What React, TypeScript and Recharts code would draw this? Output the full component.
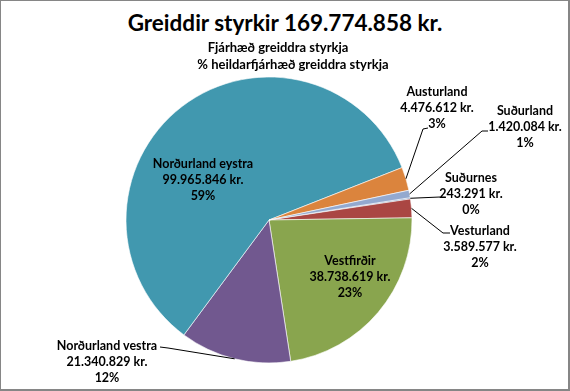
import React from 'react';
import { PieChart, Pie, Cell } from 'recharts';

// Landshlutar, in the order Excel drew them (clockwise from the Suðurnes slice)
const REGIONS = ['Suðurnes', 'Vesturland', 'Vestfirðir', 'Norðurland vestra', 'Norðurland eystra', 'Austurland', 'Suðurland'];
const AMOUNTS = [243291, 3589577, 38738619, 21340829, 99965846, 4476612, 1420084];
const PERCENT_LABELS = ['0%', '2%', '23%', '12%', '59%', '3%', '1%'];
const COLORS = ['#4572A7', '#AA4643', '#89A54E', '#71588F', '#4198AF', '#DB843D', '#93A9CF'];

const TITLE = 'Greiddir styrkir 169.774.858 kr.';
const SUBTITLE_1 = 'Fjárhæð greiddra styrkja';
const SUBTITLE_2 = '% heildarfjárhæð greiddra styrkja';

const FONT = 'Lato, "Open Sans", sans-serif';
const RAD = Math.PI / 180;

// label centre relative to the pie centre, plus optional leader elbow/end points
const LABEL_LAYOUT: Record<string, { dx: number; dy: number; leader?: [number, number][] }> = {
  'Suðurnes': { dx: 202, dy: -26, leader: [[171, -23]] },
  'Vesturland': { dx: 211, dy: 27, leader: [[174, 13], [181, 13]] },
  'Vestfirðir': { dx: 81, dy: 57 },
  'Norðurland vestra': { dx: -162, dy: 142, leader: [[-101, 128], [-109, 127]] },
  'Norðurland eystra': { dx: -66, dy: -40 },
  'Austurland': { dx: 168, dy: -112, leader: [[154, -91], [159, -92]] },
  'Suðurland': { dx: 256, dy: -93, leader: [[213, -89], [219, -89]] },
};

const data = REGIONS.map((name, i) => ({
  name,
  value: AMOUNTS[i],
  pct: PERCENT_LABELS[i],
}));

const fmtKr = (v: number) => v.toString().replace(/\B(?=(\d{3})+(?!\d))/g, '.') + ' kr.';

const renderLabel = (props: any) => {
  const { cx, cy, midAngle, outerRadius, name, value, payload } = props;
  const layout = LABEL_LAYOUT[name];
  if (!layout) return null;
  const x = cx + layout.dx;
  const y = cy + layout.dy;
  const sx = cx + outerRadius * Math.cos(-midAngle * RAD);
  const sy = cy + outerRadius * Math.sin(-midAngle * RAD);
  const pts = layout.leader
    ? [[sx, sy], ...layout.leader.map(([px, py]) => [cx + px, cy + py])]
    : null;
  return (
    <g key={name}>
      {pts && (
        <polyline
          points={pts.map((p) => p.join(',')).join(' ')}
          fill="none"
          stroke="#000"
          strokeWidth={1}
        />
      )}
      <text
        x={x}
        y={y}
        textAnchor="middle"
        fontFamily={FONT}
        fontWeight={700}
        fontSize={12.5}
        fill="#000"
      >
        <tspan x={x} dy={-12}>{name}</tspan>
        <tspan x={x} dy={16}>{fmtKr(value)}</tspan>
        <tspan x={x} dy={16}>{payload.pct}</tspan>
      </text>
    </g>
  );
};

export default function App() {
  return (
    <div
      style={{
        position: 'fixed',
        left: 0,
        top: 0,
        width: 570,
        height: 391,
        boxSizing: 'border-box',
        border: '1px solid #868686',
        borderRightWidth: 2,
        borderBottomWidth: 2,
        background: '#fff',
        fontFamily: FONT,
      }}
    >
      <div
        style={{
          position: 'absolute',
          left: -1,
          width: 570,
          top: 8,
          textAlign: 'center',
          fontSize: 22.5,
          fontWeight: 700,
          lineHeight: '28px',
        }}
      >
        {TITLE}
      </div>
      <div
        style={{
          position: 'absolute',
          left: -1,
          width: 570,
          top: 38,
          textAlign: 'center',
          fontSize: 13,
          fontWeight: 700,
          lineHeight: '17px',
          transform: 'translateX(8px)',
        }}
      >
        <div style={{ transform: 'translateX(-15px)' }}>{SUBTITLE_1}</div>
        <div>{SUBTITLE_2}</div>
      </div>
      <div style={{ position: 'absolute', left: -1, top: -1 }}>
        <PieChart width={570} height={391} margin={{ top: 0, right: 0, bottom: 0, left: 0 }}>
          <Pie
            data={data}
            dataKey="value"
            nameKey="name"
            cx={269}
            cy={220}
            outerRadius={143}
            startAngle={9}
            endAngle={-351}
            stroke="#fff"
            strokeWidth={0.6}
            label={renderLabel}
            labelLine={false}
            isAnimationActive={false}
          >
            {data.map((d, i) => (
              <Cell key={d.name} fill={COLORS[i]} />
            ))}
          </Pie>
        </PieChart>
      </div>
    </div>
  );
}
